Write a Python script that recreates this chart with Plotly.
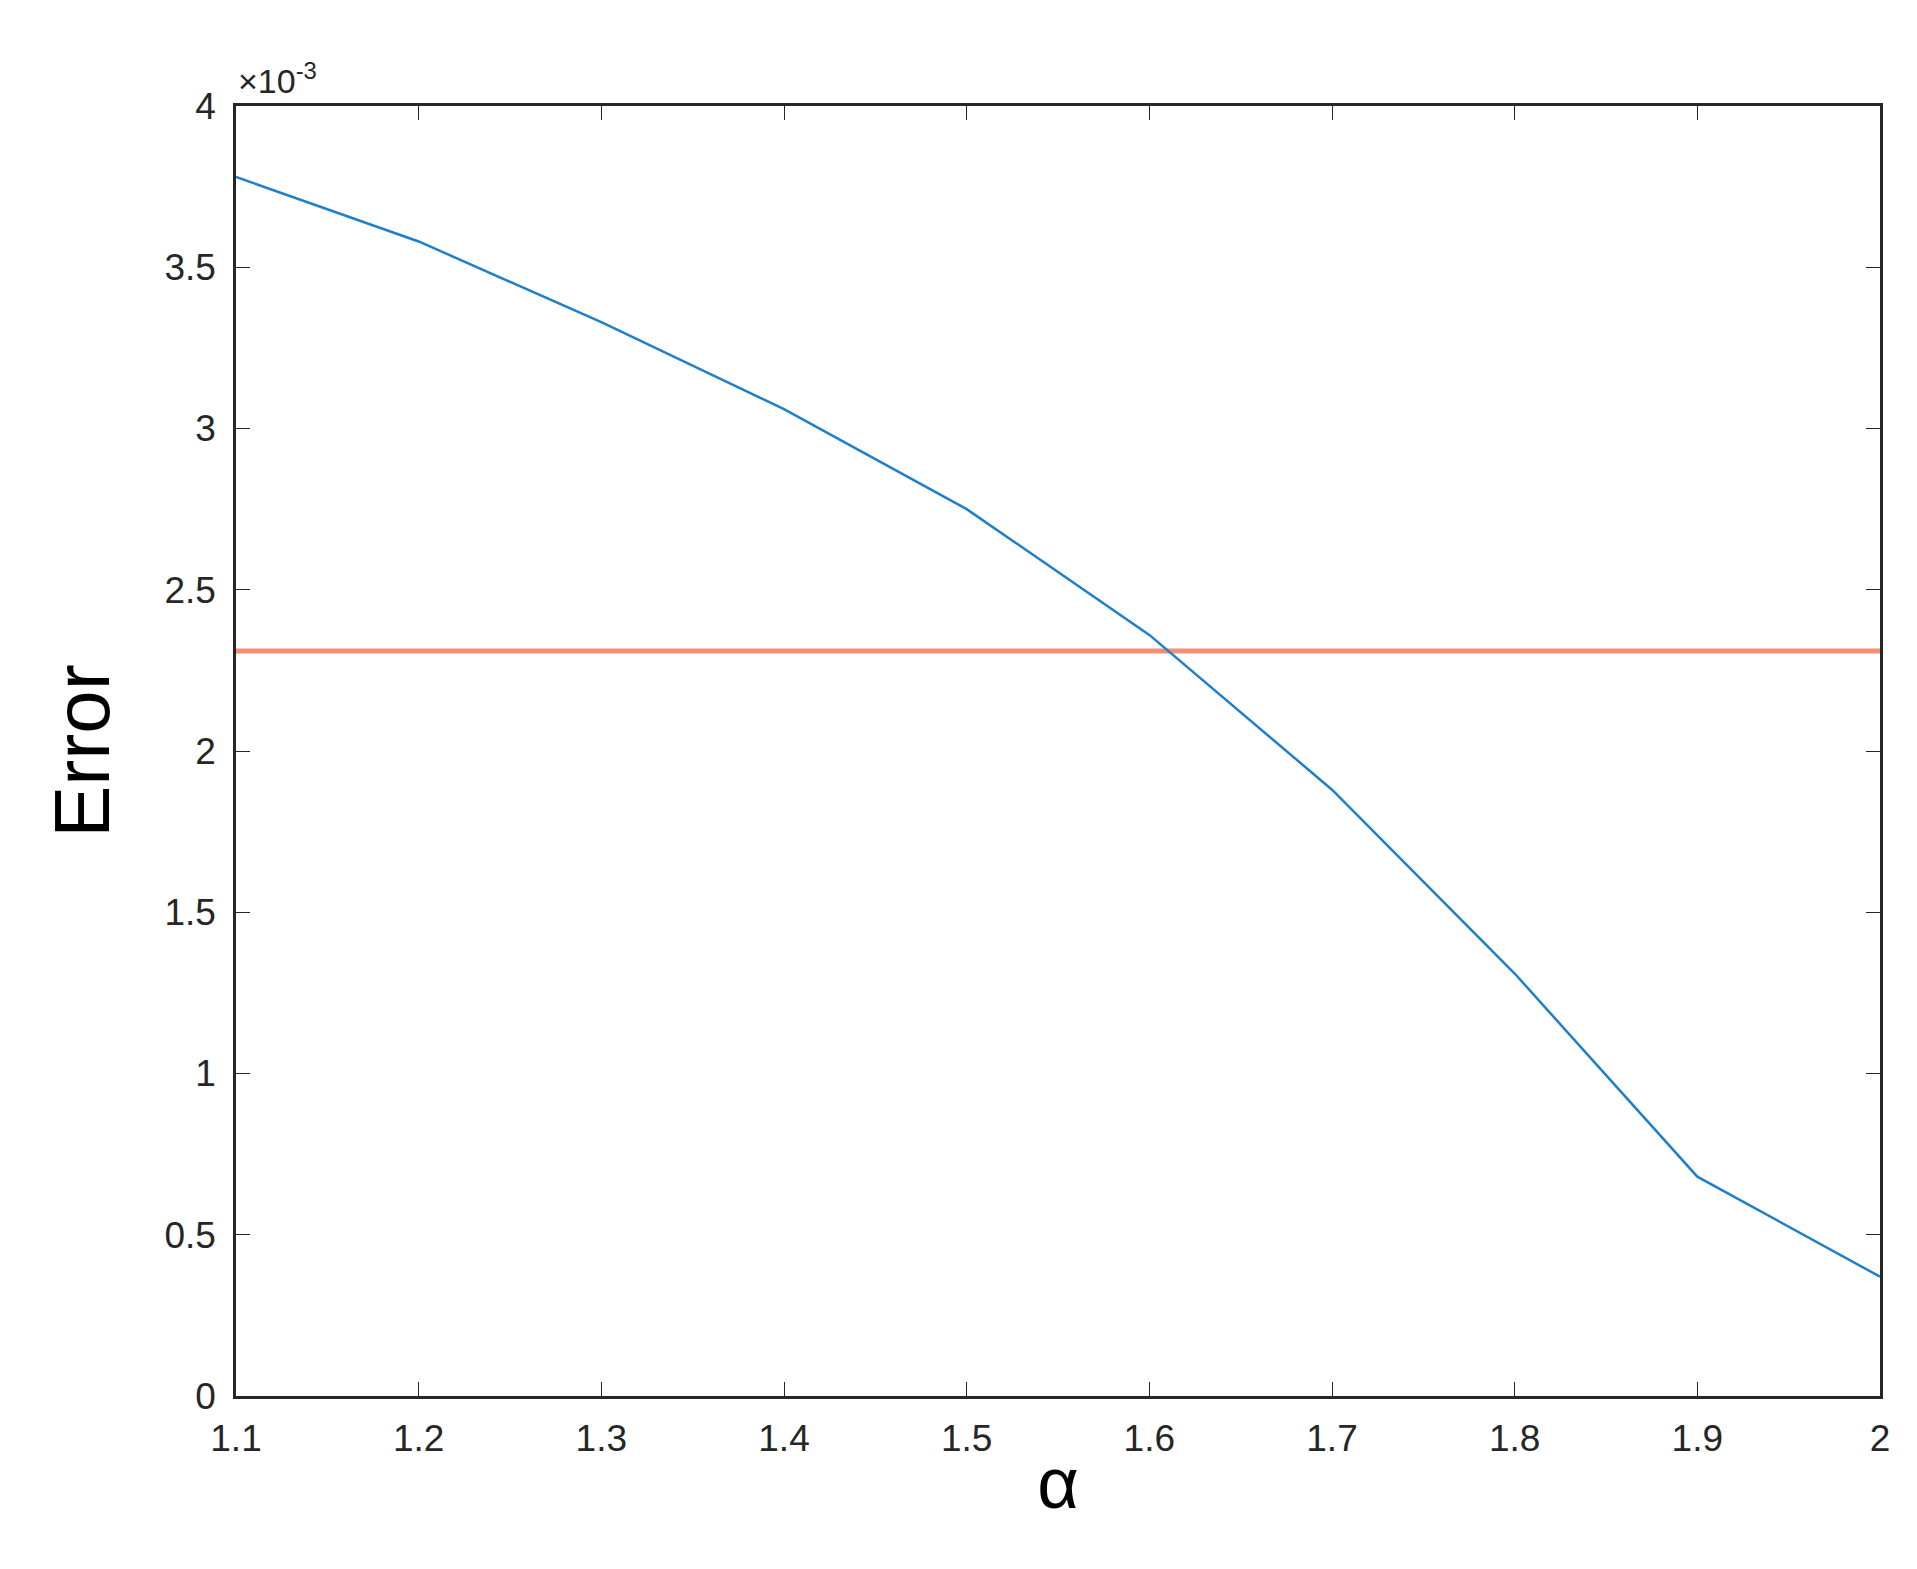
import plotly.graph_objects as go

alpha = [1.1, 1.2, 1.3, 1.4, 1.5, 1.6, 1.7, 1.8, 1.9, 2.0]
error = [3.78e-3, 3.58e-3, 3.33e-3, 3.06e-3, 2.75e-3, 2.36e-3, 1.88e-3, 1.31e-3, 0.68e-3, 0.37e-3]
ref_level = 2.31e-3
yticks = [0, 0.5e-3, 1e-3, 1.5e-3, 2e-3, 2.5e-3, 3e-3, 3.5e-3, 4e-3]
ytick_text = ["0", "0.5", "1", "1.5", "2", "2.5", "3", "3.5", "4"]
xticks = [1.1, 1.2, 1.3, 1.4, 1.5, 1.6, 1.7, 1.8, 1.9, 2.0]
xtick_text = ["1.1", "1.2", "1.3", "1.4", "1.5", "1.6", "1.7", "1.8", "1.9", "2"]

FONT = "Liberation Sans, Arial"
fig = go.Figure()
fig.add_trace(go.Scatter(x=[alpha[0], alpha[-1]], y=[ref_level, ref_level], mode="lines",
                         line=dict(color="#ef8f74", width=5), showlegend=False))
fig.add_trace(go.Scatter(x=alpha, y=error, mode="lines",
                         line=dict(color="#1f7fc9", width=2.5), showlegend=False))

axis_common = dict(showgrid=False, zeroline=False, showline=True, linecolor="#262626",
                   linewidth=2.5, mirror="ticks", ticks="inside", ticklen=14, tickcolor="#262626",
                   tickfont=dict(family=FONT, size=37, color="#262626"))
fig.update_xaxes(range=[1.1, 2.0], tickvals=xticks, ticktext=xtick_text, ticklabelstandoff=8,
                 title=dict(text="α", font=dict(family=FONT, size=72, color="black"), standoff=0),
                 **axis_common)
fig.update_yaxes(range=[0, 4e-3], tickvals=yticks, ticktext=ytick_text, ticklabelstandoff=10,
                 title=dict(text="Error", font=dict(family=FONT, size=78, color="black"), standoff=30),
                 **axis_common)
fig.add_annotation(text="×10<sup>-3</sup>", xref="paper", yref="paper", x=0, y=1.0,
                   xanchor="left", yanchor="bottom", showarrow=False, yshift=4,
                   font=dict(family=FONT, size=34, color="#262626"))
fig.update_layout(width=1917, height=1569, plot_bgcolor="white", paper_bgcolor="white",
                  margin=dict(l=228, r=45, t=98, b=181))
fig.write_html("out.html")
